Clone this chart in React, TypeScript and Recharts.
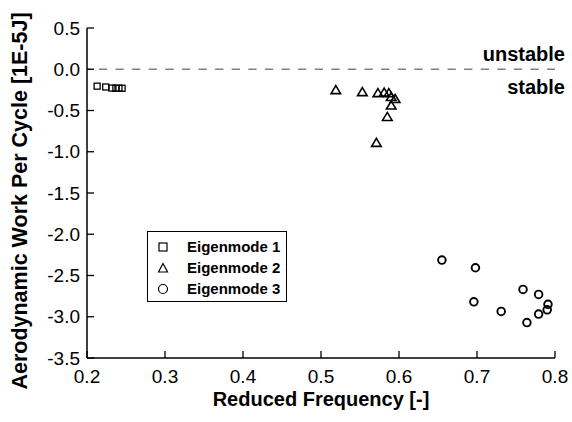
import React from "react";
import { ScatterChart, Scatter, XAxis, YAxis, ReferenceLine, Legend } from "recharts";

const FONT = '"Liberation Sans", Arial, Helvetica, sans-serif';

// Eigenmode 1 (squares)
const mode1Freq = [0.213, 0.224, 0.232, 0.237, 0.241, 0.245];
const mode1Work = [-0.205, -0.215, -0.228, -0.23, -0.23, -0.23];

// Eigenmode 2 (triangles)
const mode2Freq = [0.519, 0.553, 0.573, 0.581, 0.587, 0.59, 0.595, 0.59, 0.585, 0.571];
const mode2Work = [-0.253, -0.277, -0.289, -0.283, -0.289, -0.337, -0.361, -0.44, -0.578, -0.892];

// Eigenmode 3 (circles)
const mode3Freq = [0.655, 0.698, 0.759, 0.779, 0.696, 0.731, 0.791, 0.79, 0.779, 0.764];
const mode3Work = [-2.313, -2.406, -2.669, -2.729, -2.819, -2.936, -2.849, -2.916, -2.967, -3.07];

const freqTicks = [0.2, 0.3, 0.4, 0.5, 0.6, 0.7, 0.8];
const workTicks = [-3.5, -3.0, -2.5, -2.0, -1.5, -1.0, -0.5, 0.0, 0.5];
const seriesNames = ["Eigenmode 1", "Eigenmode 2", "Eigenmode 3"];

const toPoints = (f: number[], w: number[]) => f.map((x, i) => ({ freq: x, work: w[i] }));

const SquareMark = ({ cx, cy }: any) => (
  <rect x={cx - 3} y={cy - 3} width={6} height={6} fill="none" stroke="#000" strokeWidth={1.3} />
);
const TriangleMark = ({ cx, cy }: any) => (
  <path
    d={`M${cx},${cy - 4.5} L${cx + 4.8},${cy + 3.5} L${cx - 4.8},${cy + 3.5} Z`}
    fill="none" stroke="#000" strokeWidth={1.6}
  />
);
const CircleMark = ({ cx, cy }: any) => (
  <circle cx={cx} cy={cy} r={3.8} fill="none" stroke="#000" strokeWidth={1.9} />
);

const legendIcons = [
  <rect x={4} y={4} width={8} height={8} fill="none" stroke="#000" strokeWidth={1.2} />,
  <path d="M8,3.5 L12.5,12 L3.5,12 Z" fill="none" stroke="#000" strokeWidth={1.2} />,
  <circle cx={8} cy={8} r={4.5} fill="none" stroke="#000" strokeWidth={1.2} />,
];

function LegendBox() {
  return (
    <div style={{
      width: 140, height: 71, boxSizing: "border-box", border: "1.5px solid #000",
      background: "#fff", padding: "4px 0 0 7px", fontFamily: FONT, fontWeight: 700, fontSize: 15,
    }}>
      {seriesNames.map((name, i) => (
        <div key={name} style={{ display: "flex", alignItems: "center", height: 21 }}>
          <svg width={16} height={16}>{legendIcons[i]}</svg>
          <span style={{ marginLeft: 16 }}>{name}</span>
        </div>
      ))}
    </div>
  );
}

const tickStyle = { fill: "#000", fontSize: 19, fontFamily: FONT };
const labelStyle = { fill: "#000", fontSize: 20, fontWeight: 700, fontFamily: FONT };

export default function App() {
  return (
    <div style={{ position: "absolute", left: 0, top: 0, width: 572, height: 422, background: "#fff" }}>
      <ScatterChart width={572} height={422} margin={{ top: 28, right: 17, bottom: 8, left: 8 }}>
        <XAxis
          type="number" dataKey="freq" domain={[0.2, 0.8]} ticks={freqTicks}
          tickFormatter={(v: number) => v.toFixed(1)} height={56}
          axisLine={{ stroke: "#000", strokeWidth: 1.5 }} tickLine={{ stroke: "#000", strokeWidth: 1.3 }}
          tickSize={-7} tickMargin={19} tick={tickStyle} allowDataOverflow
          label={(p: any) => {
            const vb = p.viewBox || {};
            return (
              <text x={vb.x + vb.width / 2} y={vb.y + 48} textAnchor="middle" style={labelStyle}>
                Reduced Frequency [-]
              </text>
            );
          }}
        />
        <YAxis
          type="number" dataKey="work" domain={[-3.5, 0.5]} ticks={workTicks}
          tickFormatter={(v: number) => v.toFixed(1)} width={79}
          axisLine={{ stroke: "#000", strokeWidth: 1.5 }} tickLine={{ stroke: "#000", strokeWidth: 1.3 }}
          tickSize={-7} tickMargin={14} tick={tickStyle} allowDataOverflow
          label={(p: any) => {
            const vb = p.viewBox || {};
            const x = vb.x + 12;
            const y = vb.y + vb.height / 2 + 8;
            return (
              <text x={x} y={y} transform={`rotate(-90, ${x}, ${y})`} textAnchor="middle"
                dominantBaseline="central" style={{ ...labelStyle, fontSize: 21.5 }}>
                Aerodynamic Work Per Cycle [1E-5J]
              </text>
            );
          }}
        />
        <ReferenceLine
          y={0} stroke="#808080" strokeWidth={1.6} strokeDasharray="8.3 8.3" strokeDashoffset={4.7}
          label={(p: any) => {
            const vb = p.viewBox || {};
            const x = vb.x + vb.width + 10;
            return (
              <g style={{ fontFamily: FONT, fontWeight: 700, fontSize: 20 }}>
                <text x={x} y={vb.y - 8} textAnchor="end" fill="#000">unstable</text>
                <text x={x} y={vb.y + 25} textAnchor="end" fill="#000">stable</text>
              </g>
            );
          }}
        />
        <Legend
          layout="vertical" align="center" verticalAlign="middle" width={140} height={71}
          wrapperStyle={{ left: 147, top: 231 }} content={() => <LegendBox />}
        />
        <Scatter name={seriesNames[0]} data={toPoints(mode1Freq, mode1Work)} shape={SquareMark}
          isAnimationActive={false} />
        <Scatter name={seriesNames[1]} data={toPoints(mode2Freq, mode2Work)} shape={TriangleMark}
          isAnimationActive={false} />
        <Scatter name={seriesNames[2]} data={toPoints(mode3Freq, mode3Work)} shape={CircleMark}
          isAnimationActive={false} />
      </ScatterChart>
    </div>
  );
}
